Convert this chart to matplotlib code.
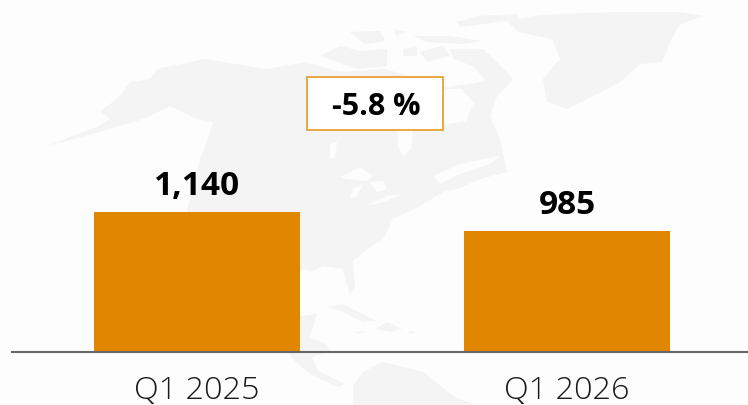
import matplotlib.pyplot as plt
from matplotlib.patches import Polygon, Rectangle

plt.rcParams["font.family"] = ["Open Sans", "DejaVu Sans"]

# chart values
quarters = ["Q1 2025", "Q1 2026"]
values = [1140, 985]
value_labels = ["1,140", "985"]
change_label = "-5.8 %"

BAR_COLOR = "#e08600"
MAP_COLOR = "#f4f4f4"
BG_COLOR = "#fdfdfd"

# rough outlines of the faint map behind the bars, in image pixels
mainland = [
    (48, 147), (70, 138), (97, 128), (110, 120), (100, 112), (113, 103), (122, 95), (130, 83),
    (150, 80), (157, 70), (205, 60), (235, 65), (267, 70), (305, 63), (340, 73), (385, 70),
    (447, 88), (470, 85), (495, 80), (513, 80), (497, 97), (490, 117), (500, 140), (507, 173),
    (480, 180), (457, 190), (443, 193), (420, 207), (393, 220), (383, 240), (370, 248),
    (353, 262), (355, 287), (350, 295), (345, 280), (343, 270), (323, 267), (313, 272),
    (300, 270), (280, 300), (260, 340), (230, 340), (187, 210), (193, 193), (200, 160),
    (207, 143), (213, 123), (197, 120), (170, 107), (143, 120), (110, 130), (70, 141),
]
greenland = [
    (518, 33), (507, 22), (540, 16), (567, 15), (613, 13), (677, 13), (705, 17), (680, 25),
    (670, 43), (662, 63), (640, 65), (620, 83), (593, 97), (567, 110), (547, 103), (543, 80),
    (560, 60), (552, 40),
]
arctic_islands = [
    [(457, 23), (477, 17), (517, 15), (517, 20), (483, 25), (460, 28)],
    [(350, 33), (380, 32), (385, 42), (365, 45)],
    [(393, 30), (407, 33), (397, 37)],
    [(413, 37), (450, 37), (483, 42), (460, 45), (427, 43)],
    [(320, 57), (340, 47), (360, 52), (387, 50), (387, 67), (357, 70), (337, 63)],
    [(403, 50), (417, 48), (417, 57), (403, 57)],
    [(450, 50), (483, 50), (497, 63), (513, 80), (500, 87), (487, 83), (473, 67), (453, 60)],
    [(420, 53), (443, 47), (450, 57), (427, 63)],
]
caribbean = [
    [(328, 308), (343, 305), (363, 315), (377, 322), (363, 323), (343, 313)],
    [(375, 330), (387, 323), (402, 330), (390, 333)],
    [(355, 332), (365, 333), (358, 335)],
    [(408, 332), (417, 333), (410, 335)],
]
yucatan = [(300, 317), (317, 315), (310, 338), (325, 345), (330, 352), (300, 352)]
central_america = [
    (287, 353), (330, 352), (312, 358), (318, 372), (345, 385), (338, 388), (310, 375), (295, 362),
]
south_america = [
    (353, 406), (353, 387), (363, 373), (383, 363), (423, 373), (453, 397), (475, 406),
]
waters = [
    [(444, 90), (462, 90), (474, 104), (466, 122), (444, 126)],  # hudson bay
    [(397, 131), (413, 131), (411, 150), (403, 157), (398, 148)],  # james bay
    [(330, 145), (337, 143), (335, 158), (330, 160)],  # lake winnipeg
    [(340, 178), (360, 168), (373, 177), (367, 182), (347, 180)],  # superior
    [(350, 200), (353, 190), (363, 185), (357, 197)],  # michigan
    [(370, 183), (383, 182), (387, 190), (377, 193)],  # huron
    [(365, 207), (387, 197), (403, 195), (383, 203)],  # erie, ontario
    [(433, 177), (460, 165), (500, 157), (490, 165), (460, 175), (440, 185)],  # st lawrence
]


def add_map(ax):
    land = [mainland, greenland, yucatan, central_america, south_america]
    for outline in land + arctic_islands + caribbean:
        ax.add_patch(Polygon(outline, closed=True, facecolor=MAP_COLOR, edgecolor="none"))
    for outline in waters:
        ax.add_patch(Polygon(outline, closed=True, facecolor=BG_COLOR, edgecolor="none"))


fig = plt.figure(figsize=(7.48, 4.06), dpi=100, facecolor=BG_COLOR)

# background layer works in image pixels
bg = fig.add_axes([0, 0, 1, 1])
bg.set_xlim(0, 748)
bg.set_ylim(406, 0)
bg.axis("off")
add_map(bg)

# change box between the bars
bg.add_patch(Rectangle((307.5, 77.5), 136, 53, facecolor="white", edgecolor="#e9a035", linewidth=1.3))
bg.text(376, 107, change_label, ha="center", va="center", fontsize=22, fontweight="bold", color="black")

# bar chart on top
ax = fig.add_axes([12 / 748, 1 - 352.6 / 406, 736 / 748, 352.6 / 406])
ax.patch.set_alpha(0)
bars = ax.bar(range(len(values)), values, width=0.557, color=BAR_COLOR)
ax.set_xlim(-0.5, 1.489)
ax.set_ylim(0, 2871)

for bar, label in zip(bars, value_labels):
    ax.annotate(
        label,
        (bar.get_x() + bar.get_width() / 2, bar.get_height()),
        xytext=(0, 13),
        textcoords="offset points",
        ha="center",
        va="baseline",
        fontsize=24,
        fontweight="bold",
        color="black",
    )

ax.set_xticks(range(len(quarters)), quarters, fontsize=23.3, fontweight="light", color="#1a1a1a")
ax.tick_params(axis="x", length=0, pad=16)
ax.set_yticks([])
for side in ["top", "left", "right"]:
    ax.spines[side].set_visible(False)
ax.spines["bottom"].set_color("#666666")
ax.spines["bottom"].set_linewidth(1.5)

plt.savefig("out.png", dpi=100, facecolor=fig.get_facecolor())
